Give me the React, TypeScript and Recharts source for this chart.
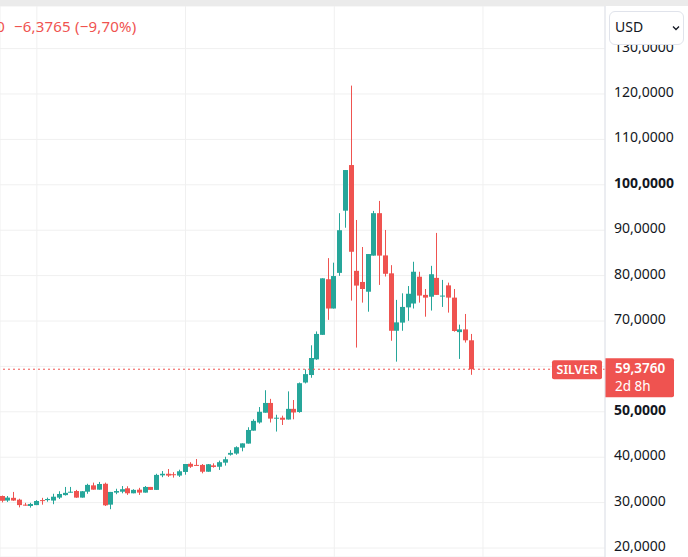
import { Bar, CartesianGrid, ComposedChart, ReferenceLine, XAxis, YAxis } from "recharts"

// Weekly OHLC, oldest first
const open = [
  31.45, 30.45, 31.05, 30.65, 29.55, 29.25, 29.45, 30.55, 30.55, 30.45,
  31.1, 31.65, 32.2, 32.55, 31.1, 32.4, 33.8, 32.85, 34.15, 29.55,
  32.2, 32.4, 33.15, 32.05, 32.85, 32.2, 33.45, 32.8, 36.0, 36.35,
  36.25, 35.95, 36.75, 38.55, 38.3, 38.3, 36.8, 38.2, 37.9, 38.8,
  40.55, 40.8, 42.1, 43.0, 45.85, 47.65, 49.8, 51.95, 48.5, 48.7,
  48.3, 50.65, 49.95, 56.45, 58.1, 61.55, 66.95, 79.2, 72.75, 80.6,
  94.3, 104.35, 81.05, 78.6, 76.45, 84.4, 93.75, 84.45, 80.5, 67.85,
  69.65, 73.0, 73.85, 79.75, 75.75, 75.35, 79.5, 75.4, 77.85, 75.15,
  67.55, 68.15, 65.75,
]
const high = [
  31.55, 31.45, 32.35, 30.85, 29.95, 29.95, 30.55, 31.05, 31.1, 31.95,
  32.5, 33.45, 33.45, 32.8, 32.55, 34.15, 34.4, 34.55, 34.4, 32.35,
  33.05, 33.65, 33.6, 32.95, 33.25, 33.65, 33.45, 36.35, 36.95, 37.4,
  36.7, 37.25, 38.5, 38.9, 39.6, 38.5, 38.5, 38.65, 39.25, 40.1,
  41.55, 42.4, 43.05, 46.6, 48.35, 51.05, 54.75, 52.85, 49.35, 49.15,
  54.5, 52.6, 56.45, 59.35, 64.65, 67.7, 79.4, 83.85, 82.85, 93.75,
  103.25, 121.85, 92.25, 86.3, 84.75, 94.25, 96.45, 90.05, 82.3, 74.65,
  76.1, 77.7, 83.05, 80.85, 77.05, 82.15, 89.4, 79.05, 78.45, 77.05,
  69.2, 71.55, 67.15,
]
const low = [
  30.05, 30.15, 30.4, 28.95, 29.35, 28.9, 29.45, 29.55, 30.2, 29.65,
  30.8, 31.55, 32.2, 31.05, 31.1, 31.95, 32.85, 32.85, 29.25, 28.55,
  31.85, 32.05, 31.7, 32.05, 31.7, 32.2, 32.8, 32.8, 35.6, 35.65,
  35.5, 35.65, 36.15, 37.65, 38.15, 36.45, 36.8, 37.7, 37.2, 38.15,
  40.35, 40.55, 41.3, 43.0, 45.85, 47.4, 49.8, 47.65, 45.65, 47.1,
  48.3, 48.35, 49.8, 56.25, 57.5, 61.45, 66.95, 70.25, 72.75, 79.95,
  90.55, 74.5, 64.15, 74.05, 72.05, 84.4, 77.95, 79.8, 65.65, 61.05,
  67.85, 70.05, 72.75, 74.05, 70.95, 72.3, 75.75, 73.1, 71.85, 67.65,
  61.65, 65.25, 58.15,
]
const close = [
  30.4, 31.1, 30.45, 29.45, 29.35, 29.7, 30.35, 30.45, 30.8, 31.3,
  31.9, 32.15, 32.4, 31.1, 32.5, 33.9, 32.85, 34.1, 29.4, 32.35,
  32.55, 32.95, 32.05, 32.8, 32.2, 33.45, 32.8, 36.1, 36.35, 35.95,
  36.1, 36.9, 38.5, 37.9, 38.15, 36.8, 38.45, 37.85, 38.9, 39.55,
  40.95, 42.2, 43.05, 46.0, 48.0, 50.0, 51.95, 48.5, 48.7, 48.25,
  50.65, 49.85, 56.3, 58.3, 61.85, 67.15, 79.4, 72.75, 79.9, 90.0,
  103.25, 85.25, 77.8, 77.05, 84.75, 93.75, 84.4, 80.4, 67.85, 69.7,
  73.1, 76.0, 80.85, 75.6, 75.15, 80.3, 75.75, 75.6, 75.15, 67.8,
  68.15, 65.75, 59.376,
]

const priceTicks = [20, 30, 40, 50, 60, 70, 80, 90, 100, 110, 120, 130]
const boldTicks = [50, 100]
const halfYearTicks = [6, 32, 58, 84]

const symbol = "SILVER"
const lastPrice = 59.376
const countdown = "2d 8h"
const lastClose = "C59,3760"
const change = "−6,3765 (−9,70%)"

const UP = "#26a69a"
const DOWN = "#ef5350"
const FONT = "'Noto Sans', sans-serif"

const candles = open.map((o, i) => ({
  i,
  o,
  h: high[i],
  l: low[i],
  c: close[i],
  range: [low[i], high[i]],
}))

const fmt = (v: number) => v.toFixed(4).replace(".", ",")

function Candle(props: any) {
  const { x, y, width, height, payload } = props
  const { o, h, l, c } = payload
  const color = c >= o ? UP : DOWN
  const perUnit = height / (h - l)
  const cx = x + width / 2
  const top = y + (h - Math.max(o, c)) * perUnit
  const bottom = y + (h - Math.min(o, c)) * perUnit
  return (
    <g>
      <rect x={Math.floor(cx)} y={y} width={1} height={height} fill={color} />
      <rect x={Math.round(cx - 2.5)} y={top} width={5} height={Math.max(1, bottom - top)} fill={color} />
    </g>
  )
}

function PriceTick(props: any) {
  const { x, y, payload } = props
  // the last-price tag sits over this level
  if (payload.value === 60) return null
  const bold = boldTicks.includes(payload.value)
  return (
    <text x={x} y={y} dy={3} textAnchor="start" fill="#131722" fontSize={14} fontFamily={FONT} fontWeight={bold ? 700 : 400}>
      {fmt(payload.value)}
    </text>
  )
}

function PriceTag(props: any) {
  const { viewBox } = props
  const y = viewBox.y
  const right = viewBox.x + viewBox.width
  return (
    <g fontFamily={FONT}>
      <rect x={right - 53} y={y - 9} width={50} height={19} rx={2} fill={DOWN} />
      <text x={right - 28} y={y + 5} textAnchor="middle" fill="#fff" fontSize={12.5} fontWeight={600}>
        {symbol}
      </text>
      <path d={`M${right} ${y - 11} h67 q2 0 2 2 v35 q0 2 -2 2 h-67 z`} fill={DOWN} />
      <text x={right + 10} y={y + 4} fill="#fff" fontSize={13.5} fontWeight={600}>
        {fmt(lastPrice)}
      </text>
      <text x={right + 10} y={y + 22} fill="#fff" fontSize={13.5}>
        {countdown}
      </text>
    </g>
  )
}

const legendText = { position: "absolute", top: 16, fontSize: 15, letterSpacing: 0.2, color: DOWN, whiteSpace: "nowrap", lineHeight: "20px" } as const

export default function App() {
  return (
    <div style={{ position: "absolute", left: 0, top: 0, width: 688, height: 557, overflow: "hidden", background: "#fff", fontFamily: FONT }}>
      <div style={{ position: "absolute", left: 0, top: 0, width: 688, height: 6, background: "#ebebeb" }} />
      <div style={{ position: "absolute", left: 0, top: 6 }}>
        <ComposedChart width={688} height={551} data={candles} margin={{ top: 0, right: 0, left: 0, bottom: 0 }}>
          <CartesianGrid stroke="#f0f0f0" />
          <XAxis type="number" dataKey="i" domain={[-0.437, 105.33]} ticks={halfYearTicks} allowDataOverflow hide />
          <YAxis
            orientation="right"
            width={83}
            domain={[18.018, 139.383]}
            ticks={priceTicks}
            allowDataOverflow
            interval={0}
            tickLine={false}
            tickSize={0}
            tickMargin={9}
            axisLine={{ stroke: "#e0e3eb" }}
            tick={<PriceTick />}
          />
          <Bar dataKey="range" barSize={5} shape={<Candle />} isAnimationActive={false} />
          <ReferenceLine y={lastPrice} stroke={DOWN} strokeDasharray="2 3" label={<PriceTag />} />
        </ComposedChart>
      </div>
      <div style={{ ...legendText, right: 683 }}>{lastClose}</div>
      <div style={{ ...legendText, left: 14 }}>{change}</div>
      <div
        style={{
          position: "absolute",
          left: 609,
          top: 11,
          width: 73,
          height: 32,
          border: "1px solid #e0e3eb",
          borderRadius: 6,
          background: "#fff",
          boxSizing: "content-box",
        }}
      >
        <span style={{ position: "absolute", left: 5, top: 5, fontSize: 14, color: "#131722", lineHeight: "20px" }}>USD</span>
        <svg style={{ position: "absolute", left: 62, top: 13 }} width={8} height={6}>
          <path d="M1 1.5 L4 4.5 L7 1.5" stroke="#131722" strokeWidth={1.3} fill="none" />
        </svg>
      </div>
    </div>
  )
}
